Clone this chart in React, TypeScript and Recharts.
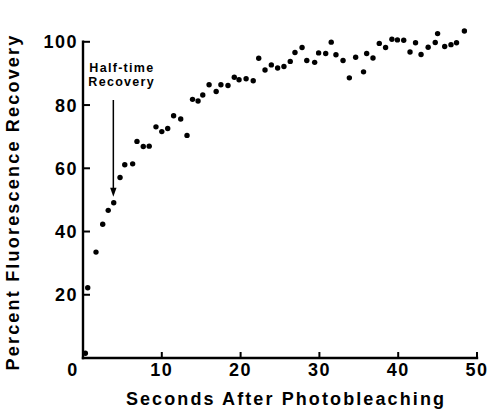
import { ScatterChart, Scatter, XAxis, YAxis, ReferenceLine } from 'recharts';

const seconds = [
  0.3, 0.6, 1.65, 2.5, 3.2, 3.9, 4.7, 5.3, 6.3, 6.85, 7.65, 8.4, 9.26, 10.0, 10.75, 11.5,
  12.4, 13.2, 13.9, 14.6, 15.2, 16.0, 16.9, 17.5, 18.4, 19.2, 19.8, 20.7, 21.6, 22.3, 23.1,
  23.9, 24.7, 25.5, 26.3, 26.9, 27.8, 28.4, 29.4, 29.9, 30.8, 31.5, 32.1, 33.0, 33.8, 34.6,
  35.6, 36.0, 36.8, 37.6, 38.4, 39.2, 39.9, 40.7, 41.5, 42.2, 42.9, 43.8, 44.7, 45.0, 45.9,
  46.7, 47.4, 48.4,
];
const recovery = [
  1.5, 22.2, 33.5, 42.3, 46.7, 49.1, 57.1, 61.1, 61.4, 68.5, 66.9, 67.0, 73.1, 71.6, 72.6, 76.6,
  75.6, 70.4, 81.8, 81.3, 83.2, 86.4, 84.3, 86.4, 86.2, 88.8, 88.0, 88.3, 87.7, 94.8, 91.1,
  92.7, 91.7, 92.2, 93.8, 96.6, 98.2, 94.1, 93.5, 96.5, 96.3, 99.9, 95.9, 94.1, 88.6, 95.1,
  90.5, 96.3, 94.9, 99.5, 98.2, 100.8, 100.6, 100.5, 96.8, 99.7, 96.0, 98.3, 99.8, 102.6, 98.5,
  99.1, 99.7, 103.4,
];

const xTicks = [0, 10, 20, 30, 40, 50];
const yTicks = [20, 40, 60, 80, 100];

// half-time arrow (seconds, top %, tip %)
const halfTimeX = 3.85;
const arrowTop = 81.6;
const arrowTip = 51;

// points plus the inward tick marks, all placed by the chart's scales
const points = [
  ...xTicks.filter((t) => t > 0).map((t) => ({ s: t, r: 0, kind: 'xmark' })),
  ...yTicks.map((t) => ({ s: 0, r: t, kind: 'ymark' })),
  ...seconds.map((s, i) => ({ s, r: recovery[i], kind: 'dot' })),
];

const font = '"Liberation Sans", Arial, Helvetica, sans-serif';

function XTick(props: any) {
  const x = Number(props.x);
  const y = Number(props.y);
  const v = props.payload.value;
  const shift = v === 0 ? -10 : 0;
  return (
    <text x={x + shift} y={y + 18} textAnchor="middle" fontFamily={font} fontWeight="bold"
      fontSize={18} letterSpacing={1.5} fill="#000">
      {v}
    </text>
  );
}

function YTick(props: any) {
  const x = Number(props.x);
  const y = Number(props.y);
  return (
    <text x={x - 5} y={y + 6.5} textAnchor="end" fontFamily={font} fontWeight="bold"
      fontSize={18} letterSpacing={1.5} fill="#000">
      {props.payload.value}
    </text>
  );
}

// a filled box between two corners, drawn as a polygon
function box(xa: number, ya: number, xb: number, yb: number) {
  return `${xa},${ya} ${xb},${ya} ${xb},${yb} ${xa},${yb}`;
}

function Arrow(props: any) {
  const { x1, y1, x2, y2 } = props;
  const top = Math.min(y1, y2);
  const tip = Math.max(y1, y2);
  return (
    <g>
      <polygon points={box(x1 - 0.75, top, x1 + 0.75, tip - 6)} fill="#000" />
      <polygon points={`${x2 - 3.2},${tip - 9} ${x2 + 3.2},${tip - 9} ${x2},${tip}`} fill="#000" />
      <text x={x1 - 24} y={top - 27.5} fontFamily={font} fontWeight="bold" fontSize={12.5}
        letterSpacing={1.3} fill="#000">Half-time</text>
      <text x={x1 - 25} y={top - 13.5} fontFamily={font} fontWeight="bold" fontSize={12.5}
        letterSpacing={1.3} fill="#000">Recovery</text>
    </g>
  );
}

function FrameLine(props: any) {
  const x1 = Number(props.x1);
  const x2 = Number(props.x2);
  const y1 = Number(props.y1);
  const y2 = Number(props.y2);
  return (
    <g>
      <polygon
        points={box(Math.min(x1, x2) - 1.2, Math.min(y1, y2) - 1.2, Math.max(x1, x2) + 1.2, Math.max(y1, y2) + 1.2)}
        fill="#000"
      />
    </g>
  );
}

function Mark(props: any) {
  const { cx, cy, payload } = props;
  if (payload.kind === 'xmark') {
    return (
      <g>
        <polygon points={box(cx - 1, cy - 6, cx + 1, cy)} fill="#000" />
      </g>
    );
  }
  if (payload.kind === 'ymark') {
    return (
      <g>
        <polygon points={box(cx, cy - 1, cx + 7, cy + 1)} fill="#000" />
      </g>
    );
  }
  return <circle cx={cx} cy={cy} r={2.7} fill="#000" />;
}

export default function App() {
  return (
    <div style={{ position: 'absolute', left: 0, top: 0, background: '#fff' }}>
      <ScatterChart width={491} height={411} margin={{ top: 26, right: 14, bottom: 0, left: 0 }}>
        <XAxis
          type="number"
          dataKey="s"
          domain={[0, 50]}
          ticks={xTicks}
          height={53}
          axisLine={false}
          tickLine={false}
          tickSize={0}
          tickMargin={0}
          tick={<XTick />}
          label={{
            value: 'Seconds After Photobleaching',
            position: 'insideBottom',
            offset: 6,
            dx: 6,
            style: { fontFamily: font, fontWeight: 'bold', fontSize: 18, letterSpacing: 2.1, fill: '#000' },
          }}
        />
        <YAxis
          type="number"
          dataKey="r"
          domain={[0, 105]}
          ticks={yTicks}
          width={83}
          axisLine={false}
          tickLine={false}
          tickSize={0}
          tickMargin={0}
          tick={<YTick />}
          label={{
            value: 'Percent Fluorescence Recovery',
            angle: -90,
            position: 'insideLeft',
            offset: 13,
            dy: 10,
            style: { fontFamily: font, fontWeight: 'bold', fontSize: 18, letterSpacing: 2.2, fill: '#000', textAnchor: 'middle' },
          }}
        />
        {/* axis frame: y axis stops at 100 while the plot runs a little higher */}
        <ReferenceLine segment={[{ x: 0, y: 0 }, { x: 0, y: 100 }]} shape={<FrameLine />} ifOverflow="visible" />
        <ReferenceLine segment={[{ x: 0, y: 0 }, { x: 50, y: 0 }]} shape={<FrameLine />} ifOverflow="visible" />
        <ReferenceLine
          segment={[{ x: halfTimeX, y: arrowTop }, { x: halfTimeX, y: arrowTip }]}
          shape={<Arrow />}
        />
        <Scatter data={points} shape={<Mark />} isAnimationActive={false} />
      </ScatterChart>
    </div>
  );
}
